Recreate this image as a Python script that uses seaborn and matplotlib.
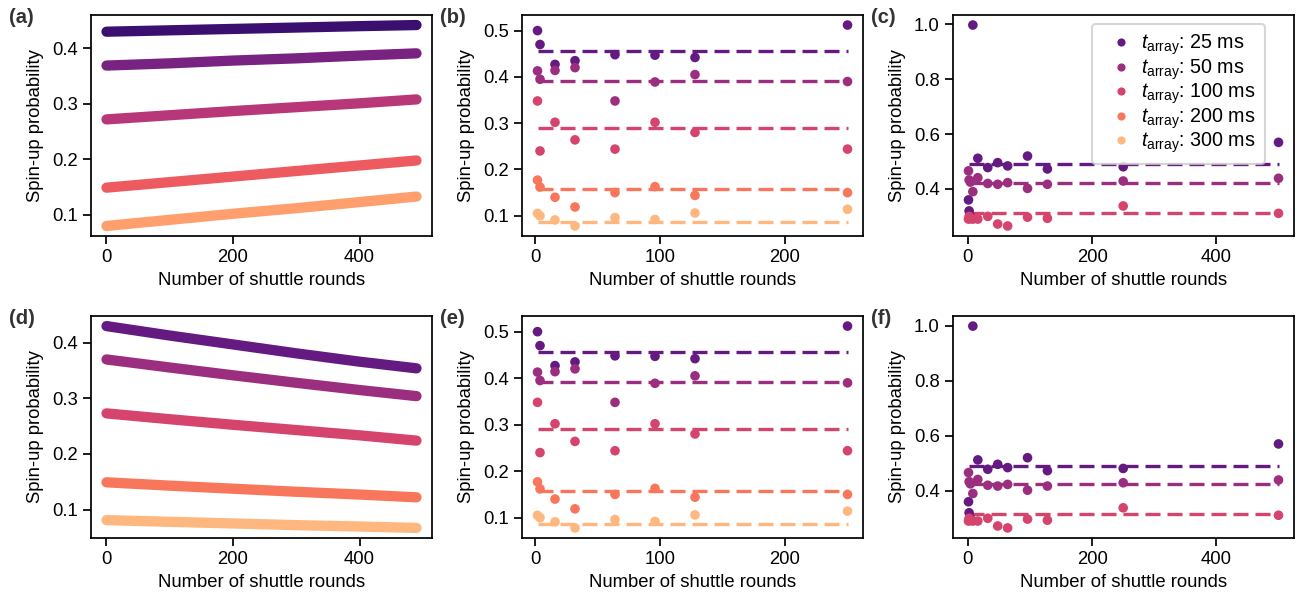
import matplotlib
matplotlib.use("Agg")
import matplotlib.pyplot as plt
from matplotlib.ticker import MultipleLocator
import numpy as np
import pandas as pd
import seaborn as sns

# ---- data ----
T_ARRAY = ["25 ms", "50 ms", "100 ms", "200 ms", "300 ms"]

# model curves (a) rising, (d) decaying
MODEL_ROUNDS = [0, 100, 200, 300, 400, 490]
MODEL_UP = {
    "25 ms": [0.430, 0.4325, 0.435, 0.4375, 0.440, 0.442],
    "50 ms": [0.369, 0.373, 0.378, 0.382, 0.387, 0.391],
    "100 ms": [0.272, 0.2795, 0.287, 0.294, 0.301, 0.308],
    "200 ms": [0.149, 0.159, 0.169, 0.179, 0.189, 0.198],
    "300 ms": [0.080, 0.091, 0.102, 0.112, 0.123, 0.133],
}
MODEL_DOWN = {
    "25 ms": [0.430, 0.413, 0.397, 0.381, 0.366, 0.354],
    "50 ms": [0.370, 0.3555, 0.3415, 0.328, 0.315, 0.304],
    "100 ms": [0.273, 0.2625, 0.2525, 0.243, 0.2335, 0.224],
    "200 ms": [0.149, 0.143, 0.1375, 0.132, 0.127, 0.122],
    "300 ms": [0.081, 0.078, 0.075, 0.072, 0.0695, 0.067],
}

# measured points (b)/(e)
ROUNDS_B = [2, 4, 16, 32, 64, 96, 128, 250]
MEAS_B = {
    "25 ms": [0.500, 0.470, 0.427, 0.435, 0.448, 0.447, 0.442, 0.512],
    "50 ms": [0.413, 0.395, 0.414, 0.420, 0.348, 0.389, 0.405, 0.390],
    "100 ms": [0.348, 0.240, 0.302, 0.264, 0.244, 0.302, 0.280, 0.244],
    "200 ms": [0.177, 0.162, 0.140, 0.119, 0.150, 0.163, 0.144, 0.150],
    "300 ms": [0.105, 0.100, 0.091, 0.078, 0.096, 0.092, 0.106, 0.114],
}
LEVEL_B = {"25 ms": 0.457, "50 ms": 0.392, "100 ms": 0.290,
           "200 ms": 0.158, "300 ms": 0.087}

# measured points (c)/(f), only three storage times
ROUNDS_C = [1, 2, 4, 8, 16, 32, 48, 64, 96, 128, 250, 500]
MEAS_C = {
    "25 ms": [0.360, 0.320, 0.300, 0.998, 0.512, 0.478, 0.496, 0.484, 0.520, 0.473, 0.481, 0.570],
    "50 ms": [0.466, 0.433, 0.425, 0.390, 0.441, 0.420, 0.417, 0.423, 0.402, 0.417, 0.429, 0.439],
    "100 ms": [0.290, 0.300, 0.292, 0.290, 0.290, 0.300, 0.272, 0.265, 0.297, 0.293, 0.338, 0.311],
}
LEVEL_C = {"25 ms": 0.491, "50 ms": 0.423, "100 ms": 0.314}

cmap = matplotlib.colormaps["magma"]
PAL_A = [cmap(v) for v in (0.2, 0.35, 0.5, 0.65, 0.8)]
PAL_B = [cmap(v) for v in (0.3, 0.4375, 0.575, 0.7125, 0.85)]
LEGEND_LABELS = [r"$t_{\mathrm{array}}$: " + t for t in T_ARRAY]

sns.set_theme(style="ticks")
plt.rcParams.update({
    "font.family": ["Liberation Sans", "DejaVu Sans"],
    "font.size": 13.3,
    "axes.labelsize": 13.3,
    "xtick.labelsize": 13.3,
    "ytick.labelsize": 13.3,
    "legend.fontsize": 14.2,
    "axes.edgecolor": "black",
    "axes.linewidth": 1.25,
    "xtick.color": "black",
    "ytick.color": "black",
    "text.color": "black",
    "axes.labelcolor": "black",
    "mathtext.fontset": "custom",
    "mathtext.rm": "Liberation Sans",
    "mathtext.it": "Liberation Sans:italic",
})


def long_frame(rounds, table):
    rows = []
    for t, vals in table.items():
        for r, v in zip(rounds, vals):
            rows.append({"rounds": r, "p": v, "t": t})
    return pd.DataFrame(rows)


def level_frame(rounds, levels):
    rows = []
    for t, lv in levels.items():
        rows.append({"rounds": min(rounds), "p": lv, "t": t})
        rows.append({"rounds": max(rounds), "p": lv, "t": t})
    return pd.DataFrame(rows)


def draw_model(ax, table, pal):
    df = long_frame(MODEL_ROUNDS, table)
    sns.lineplot(data=df, x="rounds", y="p", hue="t", hue_order=T_ARRAY,
                 palette=pal, lw=7.4, solid_capstyle="round", estimator=None,
                 legend=False, ax=ax)
    ax.xaxis.set_major_locator(MultipleLocator(200))


def draw_meas(ax, rounds, table, levels, legend=False):
    order = [t for t in T_ARRAY if t in table]
    pal = {t: c for t, c in zip(T_ARRAY, PAL_B)}
    sns.lineplot(data=level_frame(rounds, levels), x="rounds", y="p", hue="t",
                 hue_order=order, palette=pal, lw=2.4,
                 linestyle=(0, (4.5, 2.1)), estimator=None, legend=False, ax=ax)
    df = long_frame(rounds, table)
    sns.scatterplot(data=df, x="rounds", y="p", hue="t", hue_order=T_ARRAY,
                    palette=PAL_B, s=48, linewidth=0, legend=legend, ax=ax,
                    zorder=3)
    if legend:
        handles, _ = ax.get_legend_handles_labels()
        leg = ax.legend(handles, LEGEND_LABELS, loc="upper right",
                        bbox_to_anchor=(0.915, 0.96), borderaxespad=0,
                        handletextpad=0.05, labelspacing=0.0, borderpad=0.45,
                        handlelength=2.0, markerscale=0.85)
        leg.get_frame().set_linewidth(1.5)
        leg.get_frame().set_edgecolor("0.8")


fig = plt.figure(figsize=(13.02, 6.02), dpi=100)
W, H = 1302, 602
lefts = [91, 522, 953]
rows = [(15, 236), (316, 538)]
axes = []
for top, bot in rows:
    for lft in lefts:
        axes.append(fig.add_axes([lft / W, 1 - bot / H, 341 / W, (bot - top) / H]))

draw_model(axes[0], MODEL_UP, PAL_A)
draw_meas(axes[1], ROUNDS_B, MEAS_B, LEVEL_B)
axes[1].xaxis.set_major_locator(MultipleLocator(100))
draw_meas(axes[2], ROUNDS_C, MEAS_C, LEVEL_C, legend=True)
axes[2].xaxis.set_major_locator(MultipleLocator(200))

draw_model(axes[3], MODEL_DOWN, PAL_B)
draw_meas(axes[4], ROUNDS_B, MEAS_B, LEVEL_B)
axes[4].xaxis.set_major_locator(MultipleLocator(100))
draw_meas(axes[5], ROUNDS_C, MEAS_C, LEVEL_C)
axes[5].xaxis.set_major_locator(MultipleLocator(200))

for ax, tag in zip(axes, "abcdef"):
    ax.set_xlabel("Number of shuttle rounds")
    ax.set_ylabel("Spin-up probability", labelpad=6)
    ax.text(-0.24, 0.99, f"({tag})", transform=ax.transAxes, ha="left",
            va="center", fontsize=14.5, fontweight="bold", color="0.2")

fig.savefig("out.png", dpi=100)
